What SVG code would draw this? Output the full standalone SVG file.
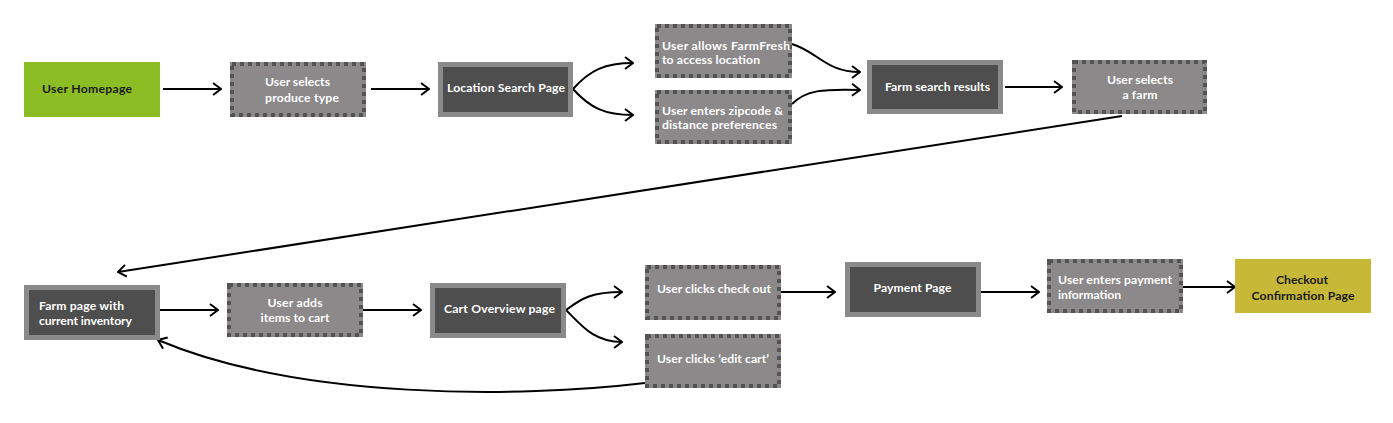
<svg xmlns="http://www.w3.org/2000/svg" width="1393" height="423" viewBox="0 0 1393 423">
<style>
.t{font-family:Lato,"Liberation Sans",sans-serif;font-weight:700;font-size:12.2px;fill:#ffffff}
.tk{font-family:Lato,"Liberation Sans",sans-serif;font-weight:700;font-size:12.2px;fill:#1a1a1a}
.c{text-anchor:middle}
.dbg{fill:#8b898a}
.dst{fill:none;stroke:#535353;stroke-width:4;stroke-dasharray:4 4}
.dark{fill:#4e4e4e;stroke:#8b8a8a;stroke-width:5}
.ln{fill:none;stroke:#000;stroke-width:2;marker-end:url(#ah)}
</style>
<defs>
<marker id="ah" viewBox="0 0 10 14" refX="9" refY="7" markerWidth="10" markerHeight="14" markerUnits="userSpaceOnUse" orient="auto">
<path d="M1,1 L9,7 L1,13" fill="none" stroke="#000" stroke-width="2"/>
</marker>
</defs>
<rect width="1393" height="423" fill="#ffffff"/>
<g id="connectors">
<path class="ln" d="M163,89 H221"/>
<path class="ln" d="M371,89 H429"/>
<path class="ln" d="M573,89 C590,70 605,63 633,63"/>
<path class="ln" d="M573,89 C590,108 605,115 633,115"/>
<path class="ln" d="M792,44 C818,52 826,72 860,72"/>
<path class="ln" d="M792,104 C806,90 822,89 860,90"/>
<path class="ln" d="M1005,87 H1062"/>
<path class="ln" d="M1122,116 L118,272"/>
<path class="ln" d="M160,310 H218"/>
<path class="ln" d="M363,310 H421"/>
<path class="ln" d="M566,310 C582,298 592,292 622,292"/>
<path class="ln" d="M566,310 C582,326 594,342 622,342"/>
<path class="ln" d="M645,383 C520,398 300,400 158,340"/>
<path class="ln" d="M781,292 H835"/>
<path class="ln" d="M981,292 H1039"/>
<path class="ln" d="M1183,287 H1235"/>
</g>
<g id="user-homepage">
<rect x="24" y="62" width="136" height="55" fill="#8cbd24"/>
<text class="tk" x="42" y="93" textLength="90">User Homepage</text>
</g>
<g id="selects-produce">
<rect class="dbg" x="230" y="62" width="136" height="55"/>
<rect class="dst" x="232" y="64" width="132" height="51"/>
<text class="t" x="265" y="86" textLength="65">User selects</text>
<text class="t" x="265" y="102" textLength="74">produce type</text>
</g>
<g id="location-search">
<rect class="dark" x="440.5" y="64.5" width="130" height="50"/>
<text class="t" x="447" y="92" textLength="118">Location Search Page</text>
</g>
<g id="allows-location">
<rect class="dbg" x="655" y="24" width="137" height="54"/>
<rect class="dst" x="657" y="26" width="133" height="50"/>
<text class="t" x="662" y="50" textLength="128">User allows FarmFresh</text>
<text class="t" x="662" y="64" textLength="98">to access location</text>
</g>
<g id="enters-zipcode">
<rect class="dbg" x="655" y="90" width="137" height="54"/>
<rect class="dst" x="657" y="92" width="133" height="50"/>
<text class="t" x="662" y="115" textLength="121">User enters zipcode &amp;</text>
<text class="t" x="662" y="129" textLength="115">distance preferences</text>
</g>
<g id="farm-search-results">
<rect class="dark" x="869.5" y="62.5" width="131" height="49"/>
<text class="t" x="885" y="91" textLength="105">Farm search results</text>
</g>
<g id="selects-farm">
<rect class="dbg" x="1072" y="60" width="135" height="54"/>
<rect class="dst" x="1074" y="62" width="131" height="50"/>
<text class="t c" x="1140" y="84" textLength="66">User selects</text>
<text class="t c" x="1140" y="99" textLength="35">a farm</text>
</g>
<g id="farm-page">
<rect class="dark" x="26.5" y="287.5" width="131" height="50"/>
<text class="t" x="39" y="310" textLength="85">Farm page with</text>
<text class="t" x="39" y="325" textLength="93">current inventory</text>
</g>
<g id="adds-items">
<rect class="dbg" x="227" y="283" width="136" height="54"/>
<rect class="dst" x="229" y="285" width="132" height="50"/>
<text class="t c" x="295" y="307" textLength="55">User adds</text>
<text class="t c" x="295" y="322" textLength="69">items to cart</text>
</g>
<g id="cart-overview">
<rect class="dark" x="432.5" y="285.5" width="131" height="50"/>
<text class="t" x="444" y="313" textLength="111">Cart Overview page</text>
</g>
<g id="clicks-checkout">
<rect class="dbg" x="645" y="265" width="136" height="55"/>
<rect class="dst" x="647" y="267" width="132" height="51"/>
<text class="t" x="657" y="293" textLength="114">User clicks check out</text>
</g>
<g id="clicks-edit-cart">
<rect class="dbg" x="645" y="334" width="136" height="54"/>
<rect class="dst" x="647" y="336" width="132" height="50"/>
<text class="t" x="657" y="363" textLength="112">User clicks ‘edit cart’</text>
</g>
<g id="payment-page">
<rect class="dark" x="847.5" y="264.5" width="131" height="50"/>
<text class="t c" x="912.5" y="292" textLength="78">Payment Page</text>
</g>
<g id="enters-payment">
<rect class="dbg" x="1047" y="259" width="136" height="54"/>
<rect class="dst" x="1049" y="261" width="132" height="50"/>
<text class="t" x="1058" y="284" textLength="114">User enters payment</text>
<text class="t" x="1058" y="299" textLength="63">information</text>
</g>
<g id="checkout-confirmation">
<rect x="1235" y="259" width="136" height="54" fill="#c8b838"/>
<text class="tk c" x="1302" y="284" textLength="52">Checkout</text>
<text class="tk c" x="1303" y="300" textLength="103">Confirmation Page</text>
</g>
</svg>
